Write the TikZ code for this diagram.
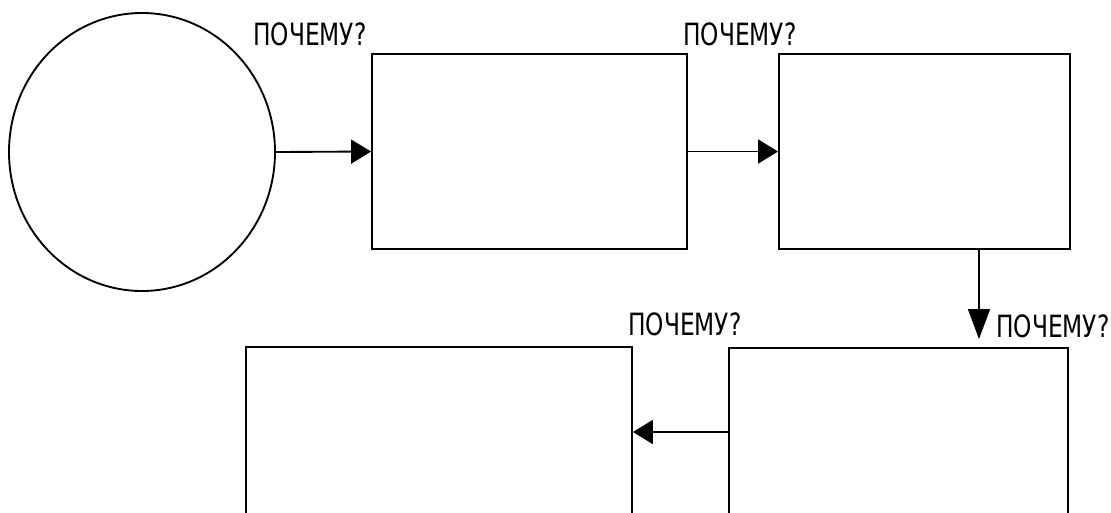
\documentclass[tikz,border=0pt]{standalone}
\usepackage{fontspec}
\newfontfamily\narrowfont[FakeStretch=0.76]{DejaVu Sans}
\usetikzlibrary{arrows.meta,shapes.geometric}

\begin{document}
\begin{tikzpicture}[x=0.75pt,y=-0.75pt,
  >={Triangle[length=15pt,width=18pt]},
  box/.style={draw,line width=1.4pt,inner sep=0pt},
  why/.style={anchor=base west,inner sep=0pt,font=\narrowfont\fontsize{23}{27}\selectfont}]
  \useasboundingbox (0,0) rectangle (1111,512);
  % start circle and the chain of boxes
  \node[box,ellipse,minimum width=199.5pt,minimum height=208.5pt] (root) at (142,152) {};
  \node[box,minimum width=236.25pt,minimum height=146.25pt] (c1) at (529.5,151.5) {};
  \node[box,minimum width=218.25pt,minimum height=146.25pt] (c2) at (924.5,151.5) {};
  \node[box,minimum width=254.25pt,minimum height=126pt] (c3) at (898.5,432) {};
  \node[box,minimum width=289.5pt,minimum height=127.5pt] (c4) at (439,432) {};
  \coordinate (drop) at (979,339);
  % connectors
  \draw[->,line width=1.4pt] (root.east) -- (c1.west);
  \draw[->,line width=1.4pt] (c1.east) -- (c2.west);
  \draw[-{Triangle[length=22.5pt,width=16.5pt]},line width=1.4pt] (c2.south -| drop) -- (drop);
  \draw[->,line width=1.4pt] (c3.west) -- (c4.east);
  % labels
  \node[why] (w1) at (253,45) {ПОЧЕМУ?};
  \node[why] (w2) at (683,45) {ПОЧЕМУ?};
  \node[why] (w3) at (628,335) {ПОЧЕМУ?};
  \node[why] (w4) at (996,337) {ПОЧЕМУ?};
\end{tikzpicture}
\end{document}
